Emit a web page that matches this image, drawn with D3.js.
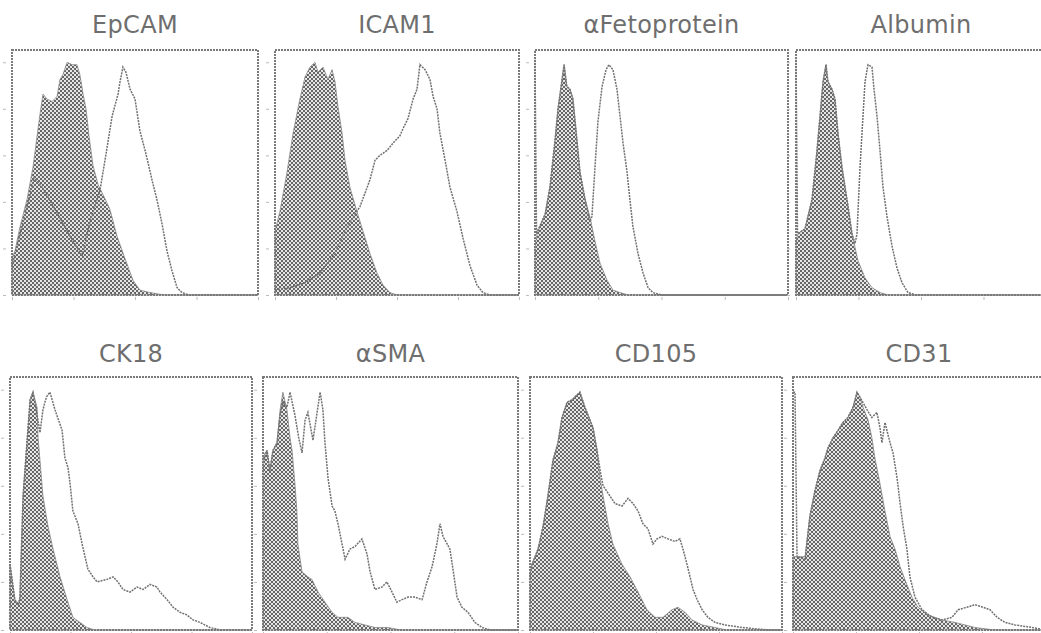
<!DOCTYPE html>
<html>
<head>
<meta charset="utf-8">
<script src="https://cdn.jsdelivr.net/npm/d3@7"></script>
<style>
    body { margin: 0; background: #fff; }
    .title { font-family: "DejaVu Sans", sans-serif; font-size: 24px; fill: #6e6e6e; letter-spacing: 0.3px; }
    .tick line { stroke: #bbb; }
</style>
</head>
<body>
<script>
// marker names, in reading order
const titles = ["EpCAM", "ICAM1", "\u03b1Fetoprotein", "Albumin", "CK18", "\u03b1SMA", "CD105", "CD31"];

// histograms as [channel (0-1000), % of frame height]
// iso = isotype control (filled grey), stained = marker (outline)
const epcamIso = [[0,15],[12,18],[33,28],[61,39],[85,52],[114,74],[126,82],[142,80],[163,79],[183,81],[195,88],[207,90],[224,95],[244,94],[264,94],[276,90],[289,82],[301,76],[313,65],[329,53],[350,45],[370,41],[398,35],[427,24],[459,15],[492,6],[520,2],[561,1],[620,0],[1000,0]];
const epcamStained = [[0,12],[33,25],[61,36],[90,48],[122,44],[175,35],[236,24],[285,16],[317,30],[358,43],[378,55],[407,73],[431,82],[439,87],[451,93],[463,91],[480,84],[500,80],[520,67],[541,59],[553,54],[569,47],[589,39],[610,29],[630,18],[650,10],[671,3],[691,1],[720,0],[1000,0]];

const icam1Iso = [[0,26],[20,34],[49,50],[74,66],[102,80],[123,89],[143,93],[164,95],[176,91],[197,93],[217,88],[234,92],[246,87],[258,77],[275,66],[287,55],[307,44],[336,34],[361,26],[389,17],[418,9],[443,4],[471,1],[500,0],[1000,0]];
const icam1Stained = [[0,2],[61,3],[123,5],[184,9],[246,17],[287,26],[328,33],[348,36],[389,47],[410,55],[430,57],[459,59],[484,62],[512,65],[525,68],[545,72],[566,80],[582,84],[594,94],[615,92],[635,88],[648,81],[664,76],[676,66],[697,55],[717,44],[746,34],[771,23],[799,12],[828,4],[852,1],[880,0],[1000,0]];

const afpIso = [[0,20],[8,25],[40,33],[59,44],[79,63],[91,76],[107,88],[115,94],[126,85],[138,84],[150,80],[166,63],[178,50],[198,39],[217,32],[237,22],[257,13],[285,6],[308,2],[336,1],[370,0],[1000,0]];
const afpStained = [[0,96],[6,25],[40,33],[59,44],[79,63],[91,76],[107,88],[115,94],[126,85],[138,84],[150,80],[166,63],[178,50],[198,39],[217,30],[225,32],[237,52],[249,71],[265,85],[281,92],[292,94],[308,92],[324,84],[336,73],[348,62],[364,50],[375,39],[387,28],[407,17],[427,9],[447,3],[466,1],[500,0],[1000,0]];

const albuminIso = [[0,22],[8,25],[36,27],[64,39],[84,59],[96,73],[108,87],[120,94],[128,87],[144,84],[156,80],[168,66],[184,52],[204,39],[224,25],[248,14],[276,7],[304,3],[336,1],[370,0],[1000,0]];
const albuminStained = [[0,97],[6,25],[36,27],[64,39],[84,59],[96,73],[108,87],[120,94],[128,87],[144,84],[156,80],[168,66],[184,52],[204,39],[224,25],[236,21],[244,25],[256,52],[268,73],[276,87],[288,94],[304,93],[312,84],[324,73],[336,59],[348,44],[364,32],[384,20],[404,11],[424,5],[448,1],[480,0],[1000,0]];

const ck18Iso = [[0,26],[20,12],[35,10],[41,13],[54,53],[70,74],[83,91],[95,94],[112,88],[116,76],[124,67],[136,53],[157,41],[178,32],[207,21],[236,12],[260,5],[289,3],[318,1],[350,0],[1000,0]];
const ck18Stained = [[0,26],[20,12],[35,10],[41,13],[54,53],[70,74],[83,91],[95,94],[112,85],[124,78],[136,87],[150,92],[165,94],[186,87],[215,79],[227,68],[240,64],[248,58],[260,47],[281,42],[298,34],[310,29],[322,24],[343,21],[360,19],[401,20],[426,21],[446,19],[467,16],[496,15],[525,17],[550,16],[579,18],[607,17],[620,15],[649,12],[674,9],[702,7],[731,6],[756,4],[785,3],[826,1],[868,0],[1000,0]];

const asmaIso = [[0,68],[8,70],[16,71],[27,63],[39,71],[55,74],[67,87],[78,94],[94,87],[106,76],[114,71],[125,58],[133,47],[137,34],[153,23],[176,21],[192,20],[216,15],[243,11],[271,7],[294,5],[333,5],[361,3],[400,2],[439,1],[490,1],[540,0],[1000,0]];
const asmaStained = [[0,66],[16,71],[27,63],[39,71],[55,74],[67,85],[78,90],[94,88],[106,94],[125,85],[140,76],[153,70],[165,83],[176,86],[196,75],[224,94],[235,87],[243,74],[255,60],[271,49],[282,47],[294,42],[310,34],[322,28],[341,32],[361,33],[388,36],[408,30],[420,23],[439,16],[467,17],[486,19],[506,15],[525,11],[545,12],[569,13],[596,13],[624,12],[643,19],[663,25],[682,34],[694,42],[706,37],[722,34],[733,32],[745,24],[761,13],[780,9],[804,7],[831,3],[859,1],[890,0],[1000,0]];

const cd105Iso = [[0,22],[8,26],[32,32],[52,41],[71,53],[91,67],[111,74],[127,84],[147,90],[167,91],[187,93],[198,94],[218,88],[238,83],[250,80],[266,71],[278,60],[290,53],[310,42],[329,34],[365,26],[397,21],[429,15],[464,8],[496,5],[528,5],[563,8],[587,9],[615,7],[643,4],[683,2],[734,1],[780,0],[1000,0]];
const cd105Stained = [[0,22],[8,26],[32,32],[52,41],[71,53],[91,67],[111,74],[127,84],[147,90],[167,91],[187,93],[198,94],[218,88],[238,83],[250,80],[266,71],[280,62],[290,57],[317,53],[337,50],[365,49],[389,52],[409,50],[429,47],[448,42],[468,40],[488,34],[504,36],[524,37],[548,36],[575,35],[595,36],[607,32],[623,26],[635,21],[647,16],[663,12],[683,8],[706,5],[734,3],[774,2],[841,1],[944,0],[1000,0]];

const cd31Iso = [[0,29],[16,29],[48,29],[67,45],[87,55],[107,63],[127,68],[139,72],[159,76],[179,79],[198,82],[218,84],[238,88],[254,94],[266,92],[278,88],[298,83],[313,76],[325,68],[345,58],[365,47],[385,37],[405,32],[425,25],[444,20],[472,13],[496,9],[536,6],[591,4],[643,3],[722,1],[800,0],[1000,0]];
const cd31Stained = [[0,94],[8,94],[16,29],[48,28],[67,45],[87,55],[107,63],[127,68],[139,72],[159,76],[179,79],[198,82],[218,84],[238,88],[254,94],[266,92],[294,87],[313,84],[333,86],[345,80],[353,74],[365,82],[385,74],[397,70],[413,60],[425,50],[437,41],[452,32],[464,21],[484,13],[512,8],[552,5],[591,4],[631,5],[655,8],[690,9],[722,10],[754,9],[782,8],[810,5],[841,3],[881,2],[948,1],[1000,0]];

// axis ticks
const xTicks = [0, 250, 500, 750, 1000];
const yTicks = [0, 19, 38, 57, 76, 95];

const isoSeries = [epcamIso, icam1Iso, afpIso, albuminIso, ck18Iso, asmaIso, cd105Iso, cd31Iso];
const stainedSeries = [epcamStained, icam1Stained, afpStained, albuminStained, ck18Stained, asmaStained, cd105Stained, cd31Stained];

// layout of the 2 x 4 grid
const rowTop = [50, 377];
const rowHeight = [245, 253];
const titleY = [33, 362];
const colLeft = [[12, 275, 535, 796], [10, 263, 530, 793]];
const colWidth = [[246, 244, 253, 250], [242, 255, 252, 252]];

const svg = d3.select("body").append("svg")
    .attr("width", 1041)
    .attr("height", 633);

// halftone-like grey for the isotype fill
const pat = svg.append("defs").append("pattern")
    .attr("id", "halftone")
    .attr("patternUnits", "userSpaceOnUse")
    .attr("width", 4)
    .attr("height", 4);
pat.append("rect").attr("width", 4).attr("height", 4).attr("fill", "#e6e6e6");
pat.append("rect").attr("width", 2).attr("height", 2).attr("fill", "#666");
pat.append("rect").attr("x", 2).attr("y", 2).attr("width", 2).attr("height", 2).attr("fill", "#666");

titles.forEach((name, i) => {
    const r = Math.floor(i / 4), c = i % 4;
    const w = colWidth[r][c], h = rowHeight[r];
    const left = colLeft[r][c];

    const x = d3.scaleLinear().domain([0, 1000]).range([0, w]);
    const y = d3.scaleLinear().domain([0, 100]).range([h, 0]);

    const g = svg.append("g")
        .attr("transform", `translate(${left},${rowTop[r]})`);

    g.append("g")
        .attr("transform", "translate(-6,0)")
        .call(d3.axisLeft(y).tickValues(yTicks).tickSize(3).tickFormat(""))
        .call(a => a.select(".domain").remove());

    g.append("g")
        .attr("transform", `translate(0,${h + 2})`)
        .call(d3.axisBottom(x).tickValues(xTicks).tickSize(3).tickFormat(""))
        .call(a => a.select(".domain").remove());

    const area = d3.area()
        .x(d => x(d[0]))
        .y0(h)
        .y1(d => y(d[1]));

    const line = d3.line()
        .x(d => x(d[0]))
        .y(d => y(d[1]));

    g.append("path")
        .datum(isoSeries[i])
        .attr("d", area)
        .attr("fill", "url(#halftone)")
        .attr("stroke", "#888")
        .attr("stroke-width", 0.8);

    g.append("path")
        .datum(stainedSeries[i])
        .attr("d", line)
        .attr("fill", "none")
        .attr("stroke", "#707070")
        .attr("stroke-width", 1.5)
        .attr("stroke-dasharray", "2,1");

    g.append("rect")
        .attr("width", w)
        .attr("height", h)
        .attr("fill", "none")
        .attr("stroke", "#7a7a7a")
        .attr("stroke-width", 2)
        .attr("stroke-dasharray", "2,1");

    svg.append("text")
        .attr("class", "title")
        .attr("x", left + w / 2)
        .attr("y", titleY[r])
        .attr("text-anchor", "middle")
        .text(name);
});
</script>
</body>
</html>
